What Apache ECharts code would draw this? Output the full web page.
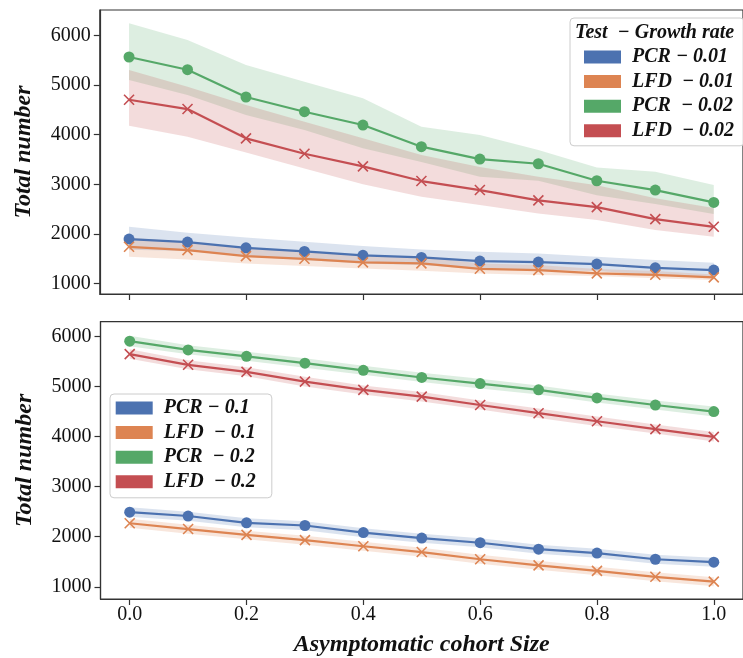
<!DOCTYPE html>
<html>
<head>
<meta charset="utf-8">
<script src="https://cdn.jsdelivr.net/npm/echarts@6/dist/echarts.min.js"></script>
<style>
html,body{margin:0;padding:0;background:#fff;}
#chart{width:743px;height:658px;}
</style>
</head>
<body>
<div id="chart"></div>
<script>
// ---------- DATA ----------
const xValues = [0.0, 0.1, 0.2, 0.3, 0.4, 0.5, 0.6, 0.7, 0.8, 0.9, 1.0];
const xTicks = [0.0, 0.2, 0.4, 0.6, 0.8, 1.0];
const yTicks = [1000, 2000, 3000, 4000, 5000, 6000];

// Top panel (growth rate 0.01 / 0.02)
const pcr001 = [1893, 1832, 1717, 1644, 1564, 1523, 1448, 1428, 1388, 1313, 1267];
const pcr001Upper = [2141, 2020, 1927, 1838, 1751, 1684, 1636, 1603, 1535, 1469, 1414];
const pcr001Lower = [1680, 1650, 1540, 1470, 1400, 1370, 1290, 1270, 1250, 1170, 1130];
const lfd001 = [1737, 1671, 1549, 1495, 1422, 1402, 1293, 1267, 1200, 1172, 1119];
const lfd001Upper = [1920, 1840, 1700, 1640, 1560, 1540, 1400, 1370, 1290, 1250, 1180];
const lfd001Lower = [1535, 1483, 1402, 1347, 1301, 1253, 1200, 1166, 1146, 1100, 1065];
const pcr002 = [5570, 5313, 4762, 4465, 4196, 3759, 3509, 3414, 3071, 2883, 2634];
const pcr002Upper = [6250, 5913, 5408, 5071, 4735, 4162, 3994, 3691, 3341, 3253, 2984];
const pcr002Lower = [5105, 4802, 4398, 4095, 3725, 3450, 3150, 3070, 2780, 2600, 2400];
const lfd002 = [4707, 4519, 3927, 3616, 3362, 3065, 2883, 2675, 2539, 2297, 2141];
const lfd002Upper = [5307, 4970, 4600, 4263, 3927, 3590, 3350, 3150, 2980, 2720, 2520];
const lfd002Lower = [4180, 3960, 3640, 3320, 3000, 2750, 2580, 2412, 2277, 2075, 1939];

// Bottom panel (growth rate 0.1 / 0.2)
const pcr01 = [2490, 2413, 2277, 2224, 2082, 1972, 1880, 1752, 1674, 1550, 1492];
const pcr01Upper = [2590, 2500, 2370, 2310, 2170, 2060, 1970, 1840, 1760, 1640, 1580];
const pcr01Lower = [2400, 2320, 2190, 2130, 1990, 1880, 1790, 1660, 1580, 1460, 1400];
const lfd01 = [2269, 2153, 2036, 1933, 1810, 1694, 1550, 1428, 1317, 1200, 1103];
const lfd01Upper = [2360, 2240, 2120, 2020, 1900, 1780, 1640, 1520, 1400, 1290, 1190];
const lfd01Lower = [2180, 2060, 1950, 1840, 1720, 1600, 1460, 1340, 1230, 1110, 1010];
const pcr02 = [5903, 5728, 5600, 5464, 5320, 5178, 5056, 4931, 4770, 4628, 4498];
const pcr02Upper = [6010, 5820, 5690, 5560, 5410, 5270, 5150, 5020, 4860, 4720, 4600];
const pcr02Lower = [5800, 5640, 5510, 5370, 5230, 5090, 4960, 4840, 4680, 4540, 4400];
const lfd02 = [5644, 5431, 5289, 5095, 4931, 4795, 4628, 4465, 4304, 4148, 3993];
const lfd02Upper = [5740, 5520, 5380, 5190, 5020, 4890, 4720, 4560, 4400, 4240, 4090];
const lfd02Lower = [5550, 5340, 5200, 5000, 4840, 4700, 4540, 4370, 4210, 4060, 3900];

const topNames = ['PCR − 0.01', 'LFD  − 0.01', 'PCR  − 0.02', 'LFD  − 0.02'];
const bottomNames = ['PCR − 0.1', 'LFD  − 0.1', 'PCR  − 0.2', 'LFD  − 0.2'];
const legendTitle = 'Test  − Growth rate';
const xAxisTitle = 'Asymptomatic cohort Size';
const yAxisTitle = 'Total number';

// ---------- STYLE ----------
const C = { blue: '#4c72b0', orange: '#dd8452', green: '#55a868', red: '#c44e52' };
const FONT = '"Liberation Serif", "DejaVu Serif", serif';
const AX = '#333333';
const X_SYMBOL = 'path://M0,0L10,10M10,0L0,10';

function pairs(ys) { return xValues.map((x, i) => [x, ys[i]]); }

function band(name, gridIdx, lower, upper, color) {
  return {
    type: 'custom', name: name, xAxisIndex: gridIdx, yAxisIndex: gridIdx,
    silent: true, z: 1, data: [[0, 0]],
    renderItem: function (params, api) {
      const pts = [];
      for (let i = 0; i < xValues.length; i++) pts.push(api.coord([xValues[i], upper[i]]));
      for (let i = xValues.length - 1; i >= 0; i--) pts.push(api.coord([xValues[i], lower[i]]));
      return { type: 'polygon', shape: { points: pts }, style: { fill: color, opacity: 0.2 } };
    }
  };
}

function line(name, gridIdx, ys, color, isPCR) {
  return {
    type: 'line', name: name, xAxisIndex: gridIdx, yAxisIndex: gridIdx,
    data: pairs(ys), z: 3,
    symbol: isPCR ? 'circle' : X_SYMBOL,
    symbolSize: isPCR ? 11 : 10,
    showAllSymbol: true,
    lineStyle: { color: color, width: 2.2 },
    itemStyle: isPCR ? { color: color, borderWidth: 0 } : { color: color, borderColor: color, borderWidth: 1.6 },
    emphasis: { disabled: true }
  };
}

function xAxis(gridIdx, showLabels) {
  return {
    type: 'value', gridIndex: gridIdx, min: -0.05, max: 1.05,
    axisLine: { show: true, onZero: false, lineStyle: { color: AX, width: 1.2 } },
    axisTick: { show: true, customValues: xTicks, length: 6, lineStyle: { color: AX, width: 1.2 } },
    axisLabel: { show: showLabels, customValues: xTicks, margin: 6, color: '#111', fontFamily: FONT, fontSize: 20,
      formatter: v => v.toFixed(1) },
    splitLine: { show: false },
    name: showLabels ? xAxisTitle : '', nameLocation: 'middle', nameGap: 34,
    nameTextStyle: { fontFamily: FONT, fontSize: 24, fontWeight: 'bold', fontStyle: 'italic', color: '#111' }
  };
}

function yAxis(gridIdx, min, max) {
  return {
    type: 'value', gridIndex: gridIdx, min: min, max: max,
    axisLine: { show: true, onZero: false, lineStyle: { color: AX, width: 1.2 } },
    axisTick: { show: true, customValues: yTicks, length: 6, lineStyle: { color: AX, width: 1.2 } },
    axisLabel: { customValues: yTicks, margin: 9, color: '#111', fontFamily: FONT, fontSize: 20,
      formatter: v => String(Math.round(v)) },
    splitLine: { show: false },
    name: yAxisTitle, nameLocation: 'middle', nameRotate: 90, nameGap: 64,
    nameTextStyle: { fontFamily: FONT, fontSize: 24, fontWeight: 'bold', fontStyle: 'italic', color: '#111' }
  };
}

const legendText = { fontFamily: FONT, fontSize: 20, fontWeight: 'bold', fontStyle: 'italic', color: '#111', lineHeight: 20, padding: [0, 0, 0, 6] };

const option = {
  backgroundColor: '#ffffff',
  animation: false,
  title: {
    text: legendTitle, left: 575, top: 22, padding: 0,
    textStyle: { fontFamily: FONT, fontSize: 20, fontWeight: 'bold', fontStyle: 'italic', color: '#111', lineHeight: 22 }
  },
  grid: [
    { left: 99.8, top: 10, width: 649, height: 284, show: true, borderColor: AX, borderWidth: 1.2, backgroundColor: 'transparent' },
    { left: 100.5, top: 321.7, width: 649.8, height: 284.8, show: true, borderColor: AX, borderWidth: 1.2, backgroundColor: 'transparent' }
  ],
  xAxis: [xAxis(0, false), xAxis(1, true)],
  yAxis: [yAxis(0, 784, 6519), yAxis(1, 757, 6291)],
  legend: [
    {
      data: topNames, orient: 'vertical', left: 570, top: 18, padding: [29, 10, 5, 14],
      itemWidth: 37, itemHeight: 13, itemGap: 4.6, icon: 'rect', selectedMode: false,
      backgroundColor: 'rgba(255,255,255,0.85)', borderColor: '#cccccc', borderWidth: 1, borderRadius: 4,
      itemStyle: { borderWidth: 0 }, textStyle: legendText
    },
    {
      data: bottomNames, orient: 'vertical', left: 110, top: 394, padding: [4, 16, 6, 5.7],
      itemWidth: 37, itemHeight: 13, itemGap: 4.6, icon: 'rect', selectedMode: false,
      backgroundColor: 'rgba(255,255,255,0.85)', borderColor: '#cccccc', borderWidth: 1, borderRadius: 4,
      itemStyle: { borderWidth: 0 }, textStyle: legendText
    }
  ],
  series: [
    band('b1', 0, pcr001Lower, pcr001Upper, C.blue),
    band('b2', 0, lfd001Lower, lfd001Upper, C.orange),
    band('b3', 0, pcr002Lower, pcr002Upper, C.green),
    band('b4', 0, lfd002Lower, lfd002Upper, C.red),
    line(topNames[0], 0, pcr001, C.blue, true),
    line(topNames[1], 0, lfd001, C.orange, false),
    line(topNames[2], 0, pcr002, C.green, true),
    line(topNames[3], 0, lfd002, C.red, false),
    band('b5', 1, pcr01Lower, pcr01Upper, C.blue),
    band('b6', 1, lfd01Lower, lfd01Upper, C.orange),
    band('b7', 1, pcr02Lower, pcr02Upper, C.green),
    band('b8', 1, lfd02Lower, lfd02Upper, C.red),
    line(bottomNames[0], 1, pcr01, C.blue, true),
    line(bottomNames[1], 1, lfd01, C.orange, false),
    line(bottomNames[2], 1, pcr02, C.green, true),
    line(bottomNames[3], 1, lfd02, C.red, false)
  ]
};

const chart = echarts.init(document.getElementById('chart'), null, { renderer: 'canvas' });
chart.setOption(option);
</script>
</body>
</html>
